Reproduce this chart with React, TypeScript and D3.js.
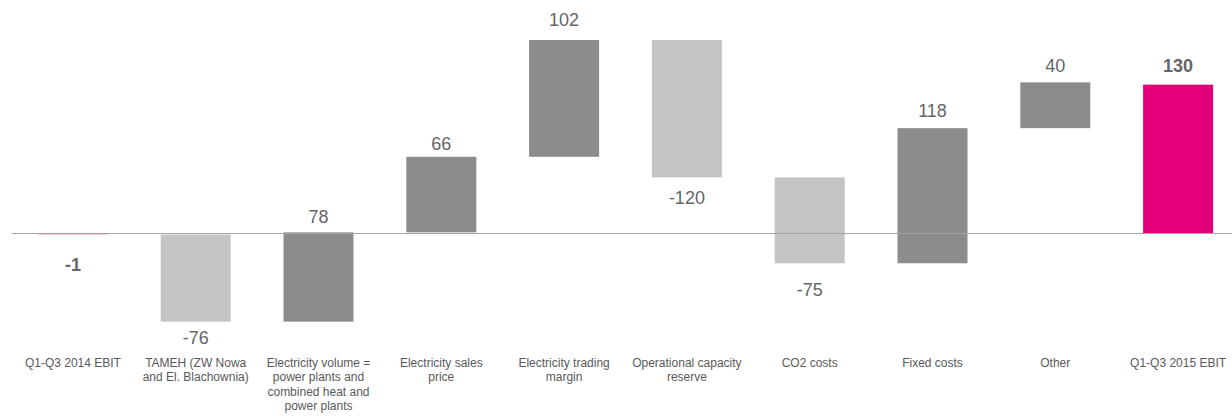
import React from "react";
import * as d3 from "d3";

const categories = [
  "Q1-Q3 2014 EBIT",
  "TAMEH (ZW Nowa and El. Blachownia)",
  "Electricity volume = power plants and combined heat and power plants",
  "Electricity sales price",
  "Electricity trading margin",
  "Operational capacity reserve",
  "CO2 costs",
  "Fixed costs",
  "Other",
  "Q1-Q3 2015 EBIT",
];
const tickLines = [
  ["Q1-Q3 2014 EBIT"],
  ["TAMEH (ZW Nowa", "and El. Blachownia)"],
  ["Electricity volume =", "power plants and", "combined heat and", "power plants"],
  ["Electricity sales", "price"],
  ["Electricity trading", "margin"],
  ["Operational capacity", "reserve"],
  ["CO2 costs"],
  ["Fixed costs"],
  ["Other"],
  ["Q1-Q3 2015 EBIT"],
];
const values = [-1, -76, 78, 66, 102, -120, -75, 118, 40, 130];
const kinds = ["total", "delta", "delta", "delta", "delta", "delta", "delta", "delta", "delta", "total"];

const W = 1232;
const H = 416;
// label distance (baseline) from the bar edge, per position (style only)
const LABEL_GAP = [36, 22.3, 9.3, 7, 14.4, 26.7, 33, 10.7, 10, 13];

export default function App() {
  React.useEffect(() => {
    document.body.style.margin = "0";
  }, []);

  const x = d3.scaleBand<string>().domain(categories).range([11.5, 1239.5]).paddingInner(0.43).paddingOuter(0.215);
  const y = d3.scaleLinear().domain([-100, 190]).range([348, 15.95]);

  let cum = 0;
  const bars = categories.map((c, i) => {
    const v = values[i];
    let y0: number, y1: number;
    if (kinds[i] === "total") {
      y0 = 0;
      y1 = v;
      cum = v;
    } else {
      y0 = cum;
      y1 = cum + v;
      cum = y1;
    }
    return { c, i, v, y0, y1, kind: kinds[i] };
  });

  const fillFor = (b: any) =>
    b.kind === "total" ? "#e2007a" : b.v >= 0 ? "#8c8c8c" : "#c4c4c4";

  return (
    <svg width={W} height={H} style={{ position: "absolute", left: 0, top: 0, fontFamily: "'Liberation Sans', Arial, sans-serif" }}>
      {bars.map((b) => {
        const top = y(Math.max(b.y0, b.y1));
        const bot = y(Math.min(b.y0, b.y1));
        return (
          <rect
            key={"r" + b.i}
            x={x(b.c)}
            y={top}
            width={x.bandwidth()}
            height={Math.max(bot - top, 1)}
            fill={fillFor(b)}
            opacity={b.kind === "total" && Math.abs(b.v) < 2 ? 0.35 : 1}
          />
        );
      })}
      <line x1={11.5} x2={W} y1={y(0)} y2={y(0)} stroke="#a6a6a6" strokeWidth={1.2} />
      {bars.map((b) => {
        const cx = (x(b.c) as number) + x.bandwidth() / 2;
        const bold = b.kind === "total";
        const gap = LABEL_GAP[b.i];
        const ty = b.v >= 0 ? y(Math.max(b.y0, b.y1)) - gap : y(Math.min(b.y0, b.y1)) + gap;
        return (
          <text
            key={"v" + b.i}
            x={cx}
            y={ty}
            textAnchor="middle"
            fontSize={18}
            fontWeight={bold ? "bold" : "normal"}
            fill="#666666"
          >
            {b.v}
          </text>
        );
      })}
      {bars.map((b) => {
        const cx = (x(b.c) as number) + x.bandwidth() / 2;
        return (
          <text key={"t" + b.i} x={cx} y={367} textAnchor="middle" fontSize={12} fill="#595959">
            {tickLines[b.i].map((ln, j) => (
              <tspan key={j} x={cx} y={367 + j * 14.3}>
                {ln}
              </tspan>
            ))}
          </text>
        );
      })}
    </svg>
  );
}
